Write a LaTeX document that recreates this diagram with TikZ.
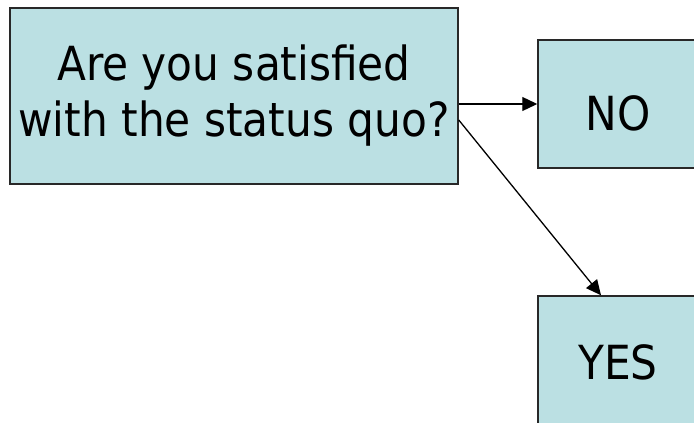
\documentclass[tikz,border=0pt]{standalone}
\usepackage{fontspec}
\setmainfont{DejaVu Sans Condensed}
\usepackage{tikz}
\usetikzlibrary{arrows.meta, positioning, calc}
\definecolor{colBox}{RGB}{187, 224, 227}
\definecolor{colEdge}{RGB}{40, 40, 40}

\tikzset{
    choicebox/.style={draw=colEdge, fill=colBox, line width=1.5pt, font=\fontsize{47}{56}\selectfont, align=center, inner sep=0pt},
    answerbox/.style={choicebox, minimum width=160pt, minimum height=128pt},
    flowarrow/.style={-{Triangle[length=15pt, width=14pt]}, line width=1.3pt}
}

\begin{document}
\begin{tikzpicture}[x=1pt, y=-1pt]
    \useasboundingbox (0, 0) rectangle (694, 423);

    % --- Pertanyaan ---
    \node[choicebox, minimum width=448pt, minimum height=176pt] (quest) at (234, 96)
        {Are you satisfied\\with the status quo?};

    % --- Jawaban ---
    \node[answerbox, text height=52pt, text depth=0pt] (no) at (618, 104) {NO};
    \node[answerbox, text height=38pt, text depth=0pt] (yes) at (618, 360) {YES};

    % Panah ke jawaban
    \draw[flowarrow] (quest.east |- no.west) -- (no.west);
    \draw[flowarrow] ([yshift=-24pt]quest.east) -- ([xshift=-17pt]yes.north);

\end{tikzpicture}
\end{document}
